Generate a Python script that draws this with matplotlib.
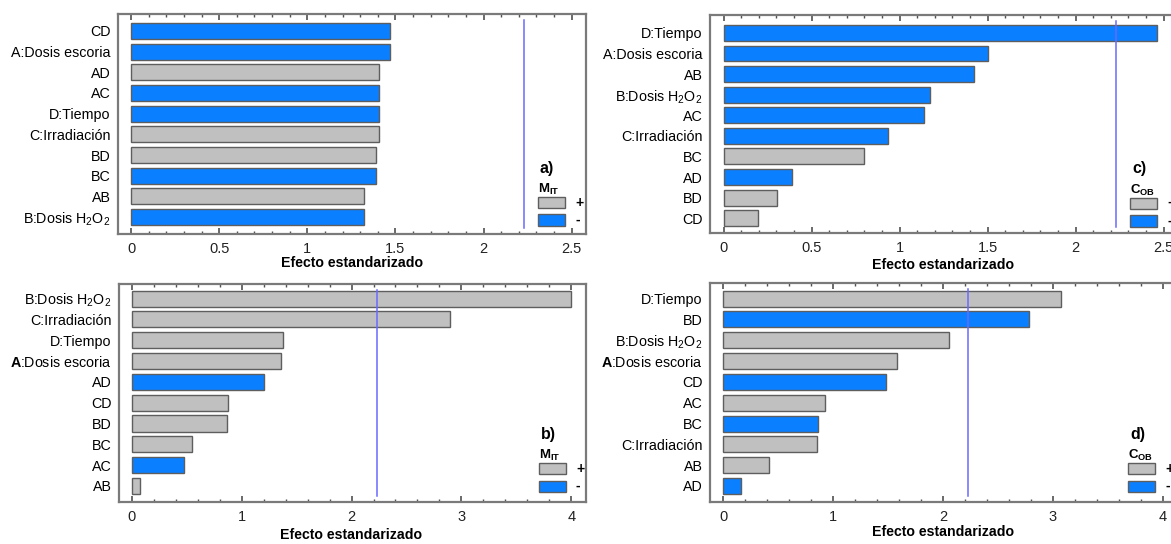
import matplotlib
matplotlib.use("Agg")
import matplotlib.pyplot as plt
from matplotlib.patches import Rectangle
from matplotlib.ticker import MultipleLocator

plt.rcParams['font.family'] = ['Liberation Sans', 'DejaVu Sans']
plt.rcParams['mathtext.fontset'] = 'custom'
plt.rcParams['mathtext.rm'] = 'Liberation Sans'
plt.rcParams['mathtext.it'] = 'Liberation Sans:italic'
plt.rcParams['mathtext.bf'] = 'Liberation Sans:bold'

H2O2 = r"B:Dosis H$_\mathrm{2}$O$_\mathrm{2}$"
A_BOLD = r"$\mathbf{A}$:Dosis escoria"

# a) M_IT
labels_a = ["CD", "A:Dosis escoria", "AD", "AC", "D:Tiempo", "C:Irradiación",
            "BD", "BC", "AB", H2O2]
effects_a = [1.47, 1.47, 1.405, 1.405, 1.405, 1.405, 1.39, 1.39, 1.32, 1.32]
signs_a = ["-", "-", "+", "-", "-", "+", "+", "-", "+", "-"]

# b) M_IT
labels_b = [H2O2, "C:Irradiación", "D:Tiempo", A_BOLD, "AD", "CD", "BD",
            "BC", "AC", "AB"]
effects_b = [4.0, 2.9, 1.38, 1.36, 1.2, 0.875, 0.87, 0.545, 0.475, 0.075]
signs_b = ["+", "+", "+", "+", "-", "+", "+", "+", "-", "+"]

# c) C_OB
labels_c = ["D:Tiempo", "A:Dosis escoria", "AB", H2O2, "AC", "C:Irradiación",
            "BC", "AD", "BD", "CD"]
effects_c = [2.46, 1.50, 1.425, 1.17, 1.14, 0.935, 0.795, 0.39, 0.305, 0.195]
signs_c = ["-", "-", "-", "-", "-", "-", "+", "-", "+", "+"]

# d) C_OB
labels_d = ["D:Tiempo", "BD", H2O2, A_BOLD, "CD", "AC", "BC", "C:Irradiación",
            "AB", "AD"]
effects_d = [3.07, 2.78, 2.05, 1.585, 1.48, 0.925, 0.865, 0.85, 0.42, 0.165]
signs_d = ["+", "-", "+", "+", "-", "+", "-", "+", "+", "-"]

t_crit = 2.228

W, H = 1171, 544
POS = "#c0c0c0"
NEG = "#0a7fff"
FRAME = "#7a7a7a"

fig = plt.figure(figsize=(W / 100, H / 100), dpi=100)


def fx(x):
    return x / W


def fy(y):
    return 1 - y / H


def pareto(box, labels, effects, signs, xlim, major, minor, ylim,
           tag, resp, key, xlab):
    left, top, right, bottom = box
    ax = fig.add_axes([fx(left), fy(bottom), (right - left) / W, (bottom - top) / H])
    y = list(range(len(labels)))
    colors = [POS if s == "+" else NEG for s in signs]
    ax.barh(y, effects, height=0.77, color=colors, edgecolor="#5e5e5e", linewidth=1.0)
    ax.axvline(t_crit, ymin=0.028, ymax=0.972, color="#6a6aff", linewidth=1.1)
    ax.set_xlim(*xlim)
    ax.set_ylim(*ylim)
    ax.set_yticks(y)
    ax.set_yticklabels(labels, fontsize=10.3)
    ax.xaxis.set_major_locator(MultipleLocator(major))
    ax.xaxis.set_minor_locator(MultipleLocator(minor))
    ax.xaxis.set_major_formatter(matplotlib.ticker.FuncFormatter(lambda v, p: f"{v:g}"))
    ax.tick_params(axis="y", length=0, pad=5)
    ax.tick_params(axis="x", which="both", direction="in", top=True, bottom=True,
                   color="#505050", labelsize=10.5, pad=6, labelcolor="#222222")
    ax.tick_params(axis="x", which="major", length=4, width=1.2)
    ax.tick_params(axis="x", which="minor", length=2.5, width=1.0)
    for sp in ax.spines.values():
        sp.set_color(FRAME)
        sp.set_linewidth(1.6)

    fig.text(fx(xlab[0]), fy(xlab[1]), "Efecto estandarizado", ha="center", va="center",
             fontsize=10.2, fontweight="bold")

    # legend block drawn in figure pixels
    kx, ky = key
    fig.text(fx(kx + 2), fy(ky - 29), tag, ha="left", va="center",
             fontsize=11.5, fontweight="bold")
    fig.text(fx(kx), fy(ky - 8), resp, ha="left", va="center", fontsize=9.5)
    for i, (c, s) in enumerate([(POS, "+"), (NEG, "-")]):
        yy = ky + i * 17.5
        fig.add_artist(Rectangle((fx(kx), fy(yy + 11)), 27 / W, 11 / H,
                                 transform=fig.transFigure, facecolor=c,
                                 edgecolor="#5e5e5e", linewidth=1.0))
        fig.text(fx(kx + 37), fy(yy + 5.5), s, ha="left", va="center",
                 fontsize=10, fontweight="bold")
    return ax


M_IT = r"$\mathbf{M}_{\mathbf{IT}}$"
C_OB = r"$\mathbf{C}_{\mathbf{OB}}$"

pareto((117.5, 14, 585.5, 234), labels_a, effects_a, signs_a, (-0.077, 2.578), 0.5, 0.1,
       (9.82, -0.82), "a)", M_IT, (538, 197), (352, 263))
pareto((709.5, 15, 1177, 233), labels_c, effects_c, signs_c, (-0.08, 2.576), 0.5, 0.1,
       (9.72, -0.87), "c)", C_OB, (1130, 198), (943, 265))
pareto((118.5, 284, 585.5, 502), labels_b, effects_b, signs_b, (-0.122, 4.13), 1, 0.2,
       (9.77, -0.7), "b)", M_IT, (539, 463), (351, 535))
pareto((709.5, 283, 1177, 502), labels_d, effects_d, signs_d, (-0.126, 4.13), 1, 0.2,
       (9.77, -0.75), "d)", C_OB, (1128, 463), (943, 532))

fig.savefig("out.png", dpi=100)
